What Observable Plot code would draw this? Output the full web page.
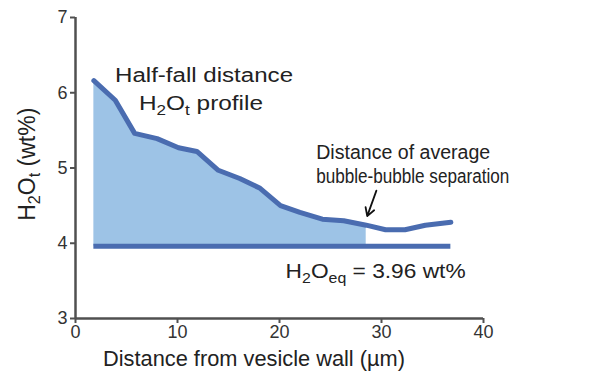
<!DOCTYPE html>
<html><head><meta charset="utf-8">
<script src="https://cdn.jsdelivr.net/npm/d3@7"></script>
<script src="https://cdn.jsdelivr.net/npm/@observablehq/plot@0.6"></script>
<style>
body{margin:0;background:#fff;}
#chart svg{font-family:"Liberation Sans",Arial,sans-serif;}
</style>
</head><body><div id="chart"></div>
<script>
// Data
const distance = [1.8, 3.9, 5.8, 8.0, 10.1, 11.9, 14.0, 16.1, 18.1, 20.1, 22.0, 24.2, 26.3, 28.5, 30.4, 32.3, 34.3, 36.8];
const h2o      = [6.16, 5.90, 5.46, 5.39, 5.27, 5.22, 4.97, 4.86, 4.73, 4.50, 4.41, 4.32, 4.30, 4.24, 4.18, 4.18, 4.24, 4.28];
const fillEnd = 28.5;      // distance of average bubble-bubble separation
const h2oEq = 3.96;        // equilibrium water content
const xTicks = [0, 10, 20, 30, 40];
const yTicks = [3, 4, 5, 6, 7];

const centeredNotes = [
  {text: "Half-fall distance", x: 12.6, y: 6.23, width: 178},
  {text: "H2Ot profile", x: 12.3, y: 5.86, width: 124}
];
const leftNotes = [
  {text: "Distance of average", x: 23.6, y: 5.21, width: 174},
  {text: "bubble-bubble separation", x: 23.6, y: 4.89, width: 193},
  {text: "H2Oeq = 3.96 wt%", x: 20.6, y: 3.62, width: 180}
];
const arrowData = [{x1: 29.5, y1: 4.70, x2: 28.6, y2: 4.36}];
const xLabel = "Distance from vesicle wall (µm)";
const yLabel = "H2Ot (wt%)";

const data = distance.map((d, i) => ({x: d, y: h2o[i]}));
const filled = data.filter(d => d.x <= fillEnd);

const axisColor = "#505050";
const lineColor = "#4a6cb0";
const fillColor = "#9dc3e6";

const plot = Plot.plot({
  width: 589, height: 376,
  marginLeft: 75, marginRight: 106, marginTop: 17, marginBottom: 58,
  x: {domain: [0, 40]},
  y: {domain: [3, 7]},
  style: {fontFamily: '"Liberation Sans", Arial, sans-serif', background: "#fff"},
  marks: [
    Plot.areaY(filled, {x: "x", y1: h2oEq, y2: "y", fill: fillColor}),
    Plot.ruleY([h2oEq], {x1: distance[0], x2: distance[distance.length - 1], stroke: lineColor, strokeWidth: 5}),
    Plot.line(data, {x: "x", y: "y", stroke: lineColor, strokeWidth: 5, strokeLinejoin: "round"}),
    Plot.ruleX([0], {y1: 3, y2: 7, stroke: axisColor, strokeWidth: 2.5}),
    Plot.ruleY([3], {x1: 0, x2: 40, stroke: axisColor, strokeWidth: 2.5}),
    Plot.axisX(xTicks, {tickSize: 5, tickPadding: 2, fontSize: 18, color: "#333", stroke: axisColor, strokeWidth: 2, label: null, tickFormat: "d"}),
    Plot.axisY(yTicks, {tickSize: 5, tickPadding: 3, fontSize: 18, color: "#333", stroke: axisColor, strokeWidth: 2, label: null, tickFormat: "d"}),
    Plot.text(centeredNotes, {x: "x", y: "y", text: "text", textAnchor: "middle", fontSize: 20, fill: "#222"}),
    Plot.text(leftNotes, {x: "x", y: "y", text: "text", textAnchor: "start", fontSize: 20, fill: "#222"}),
    Plot.arrow(arrowData, {x1: "x1", y1: "y1", x2: "x2", y2: "y2", stroke: "#111", strokeWidth: 1.8, headLength: 9}),
    Plot.text([xLabel], {x: 17.5, y: 3, dy: 40, text: d => d, fontSize: 22, fill: "#222"}),
    Plot.text([yLabel], {x: 0, y: 5.05, dx: -48, rotate: -90, text: d => d, fontSize: 23, fill: "#222"})
  ]
});
document.getElementById("chart").appendChild(plot);

// subscripts and widths
const sub = (s) => `<tspan baseline-shift="-5" font-size="70%">${s}</tspan>`;
const widths = Object.fromEntries([...centeredNotes, ...leftNotes].map(a => [a.text, a.width]));
widths[xLabel] = 302;
d3.select(plot).selectAll("text").each(function() {
  const t = this.textContent;
  const el = d3.select(this);
  if (t.startsWith("H2Ot")) {
    el.html("H" + sub("2") + "O" + sub("t") + t.slice(4));
  } else if (t.startsWith("H2Oeq")) {
    el.html("H" + sub("2") + "O" + sub("eq") + t.slice(5));
  }
  if (widths[t]) {
    el.attr("textLength", widths[t]).attr("lengthAdjust", "spacingAndGlyphs");
  }
});
</script>
</body></html>
